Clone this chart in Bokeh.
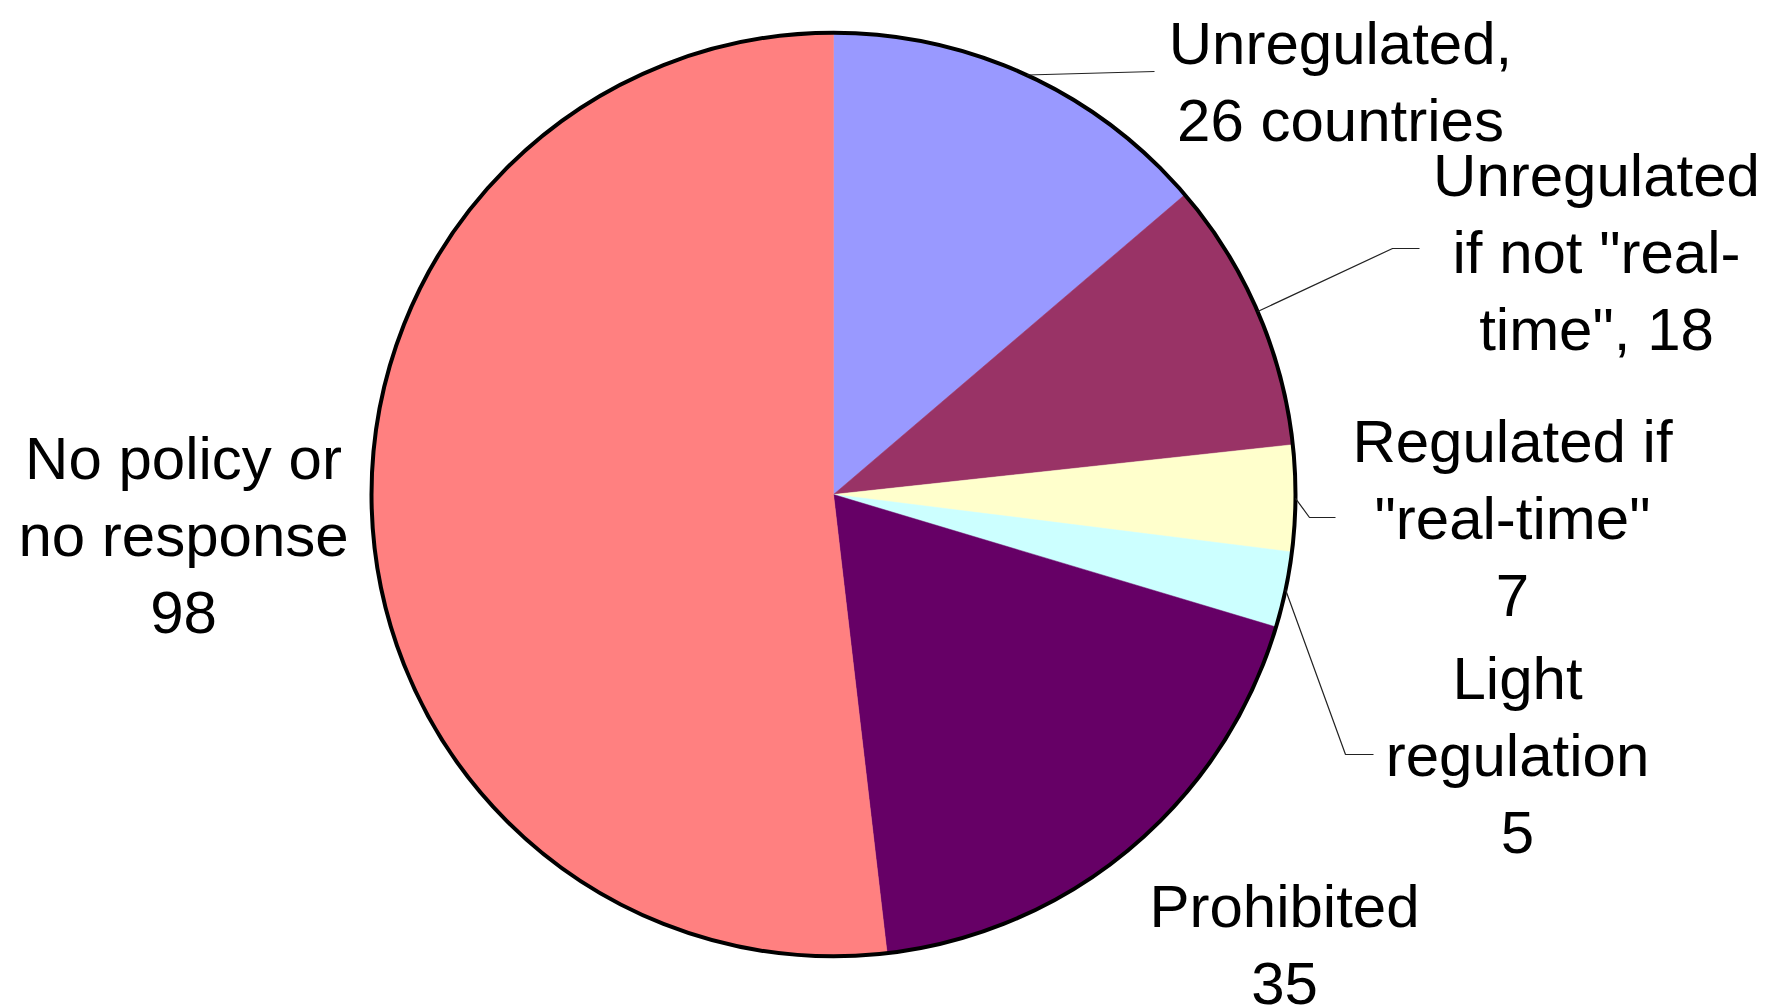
import math
from bokeh.plotting import figure
from bokeh.models import ColumnDataSource, Range1d
from bokeh.core.properties import value
from bokeh.embed import file_html
from bokeh.resources import INLINE

# ---- data ----
categories = ["Unregulated", "Unregulated if not \"real-time\"", "Regulated if \"real-time\"",
              "Light regulation", "Prohibited", "No policy or no response"]
counts = [26, 18, 7, 5, 35, 98]
colors = ["#9999FF", "#993366", "#FFFFCC", "#CCFFFF", "#660066", "#FF8080"]
label_texts = ["Unregulated,\n26 countries",
               "Unregulated\nif not \"real-\ntime\", 18",
               "Regulated if\n\"real-time\"\n7",
               "Light\nregulation\n5",
               "Prohibited\n35",
               "No policy or\nno response\n98"]

# ---- layout (screen pixels, y down) ----
W, H = 1769, 1008
CX, CY, R = 833, 494, 462
label_pos = [(1340, 65), (1596, 197), (1512, 463), (1517, 700), (1284, 928), (183, 480)]
LINE_STEP = 77
TEXT_SHIFT = -22   # compensates for renderer baseline placement
leaders = [[(1154, 71)], [(1392, 248), (1419, 248)], [(1309, 517), (1335, 517)],
           [(1345, 754), (1373, 754)], None, None]

def fy(y):
    return H - y

total = sum(counts)
starts, ends, mids = [], [], []
acc = 0.0
for c in counts:
    a0 = acc / total * 2 * math.pi
    acc += c
    a1 = acc / total * 2 * math.pi
    starts.append(math.pi / 2 - a0)
    ends.append(math.pi / 2 - a1)
    mids.append((a0 + a1) / 2)

p = figure(width=W, height=H, output_backend="svg", toolbar_location=None,
           x_range=Range1d(0, W), y_range=Range1d(0, H),
           x_axis_type=None, y_axis_type=None, min_border=0)
p.grid.visible = False
p.outline_line_color = None
p.background_fill_color = "white"
p.border_fill_color = "white"

src = ColumnDataSource(dict(start=starts, end=ends, color=colors, cat=categories, n=counts))
p.wedge(x=CX, y=fy(CY), radius=R, start_angle="start", end_angle="end",
        direction="clock", fill_color="color", line_color="color", line_width=0.5, source=src)
p.circle(x=[CX], y=[fy(CY)], radius=R, fill_color=None, line_color="black", line_width=4)

# leader lines
xs, ys = [], []
for i, pts in enumerate(leaders):
    if not pts:
        continue
    th = mids[i]
    sx = CX + R * math.sin(th)
    sy = CY - R * math.cos(th)
    lx = [sx] + [q[0] for q in pts]
    ly = [fy(sy)] + [fy(q[1]) for q in pts]
    xs.append(lx)
    ys.append(ly)
p.multi_line(xs=xs, ys=ys, line_color="#222222", line_width=1.2)

# labels
tx, ty, tt = [], [], []
for (x0, y0), lab in zip(label_pos, label_texts):
    for j, line in enumerate(lab.split("\n")):
        tx.append(x0)
        ty.append(fy(y0 + j * LINE_STEP + TEXT_SHIFT))
        tt.append(line)
p.text(x=tx, y=ty, text=tt, text_align="center", text_baseline="alphabetic",
       text_font=value("Liberation Sans"), text_font_size="60px", text_color="black")

open("out.html", "w").write(file_html(p, INLINE))
